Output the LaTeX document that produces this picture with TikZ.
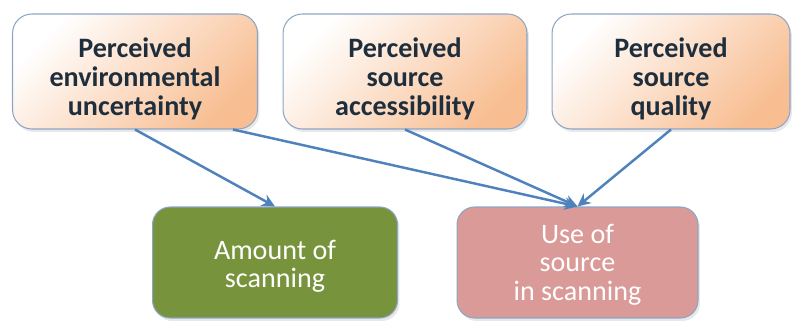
\documentclass[tikz,border=0pt]{standalone}
\usepackage{fontspec}
\setmainfont{Carlito}
\usetikzlibrary{arrows.meta,shadows}
\definecolor{peach}{HTML}{F8BE92}
\definecolor{rimblue}{HTML}{8DA5C6}
\definecolor{olivebox}{HTML}{77933C}
\definecolor{rosebox}{HTML}{DA9A98}
\definecolor{linkblue}{HTML}{4F81BD}
\definecolor{inktext}{HTML}{1E2E3C}
\tikzset{
  boxtxt/.style={align=center, inner sep=0pt},
  srcb/.style={draw=rimblue, line width=0.6pt, rounded corners=11pt,
    left color=white, middle color=peach!18!white, right color=peach, shading angle=45,
    minimum width=4.9cm, minimum height=2.3cm,
    drop shadow={opacity=0.18, shadow xshift=0.4mm, shadow yshift=-0.6mm},
    label={[boxtxt, text=inktext, font=\fontsize{16}{16.4}\selectfont\bfseries,
      yshift=-0.15cm]center:#1}},
  outb/.style={draw=rimblue, line width=0.6pt, rounded corners=10pt,
    minimum width=4.9cm, minimum height=2.22cm,
    drop shadow={opacity=0.18, shadow xshift=0.4mm, shadow yshift=-0.6mm}},
  outtxt/.style={boxtxt, text=white, font=\fontsize{16}{16.2}\selectfont},
  link/.style={-{Stealth[length=2.6mm, width=2.5mm]}, line width=1.4pt, draw=linkblue},
}
\begin{document}
\begin{tikzpicture}[x=0.02cm, y=-0.02cm]
  \useasboundingbox (0,0) rectangle (793,323);
  % perception boxes
  \node[srcb={Perceived\\environmental\\uncertainty}] (envunc) at (135,71.5) {};
  \node[srcb={Perceived\\source\\accessibility}, minimum width=4.88cm] (srcacc) at (405,71.5) {};
  \node[srcb={Perceived\\source\\quality}, minimum width=4.76cm] (srcqual) at (671,71.5) {};
  % outcome boxes
  \node[outb, fill=olivebox,
    label={[outtxt, yshift=-0.08cm]center:Amount of\\scanning}] (amount) at (275,262.5) {};
  \node[outb, fill=rosebox, minimum width=4.82cm,
    label={[outtxt, yshift=-0.04cm]center:Use of\\source\\in scanning}] (usesrc) at (577.5,262.5) {};
  % links
  \draw[link] (envunc.south) -- (amount.north);
  \draw[link] ([xshift=1.96cm]envunc.south) -- (usesrc.north);
  \draw[link] (srcacc.south) -- (usesrc.north);
  \draw[link] (srcqual.south) -- (usesrc.north);
\end{tikzpicture}
\end{document}
